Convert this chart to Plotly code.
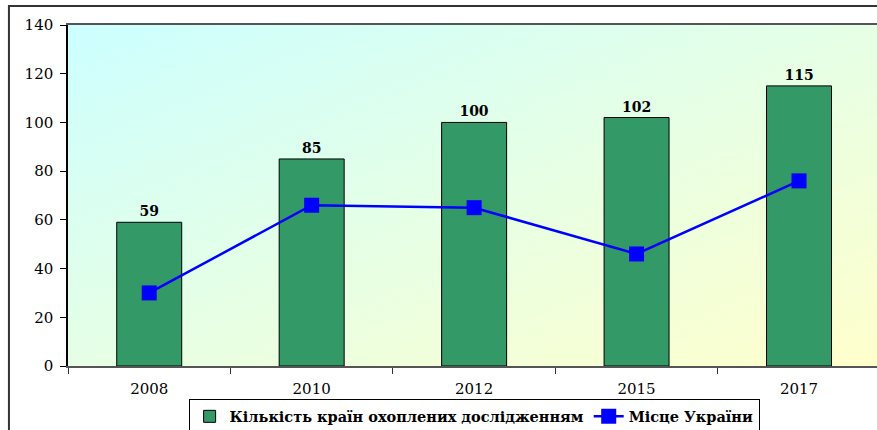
import base64
import plotly.graph_objects as go

years = ['2008', '2010', '2012', '2015', '2017']
countries = [59, 85, 100, 102, 115]
ukraine_rank = [30, 66, 65, 46, 76]

fontmin = 15
serif = 'DejaVu Serif, Times New Roman, serif'

# diagonal gradient for the plot area (cyan -> pale yellow)
svg = ('<svg xmlns="http://www.w3.org/2000/svg" width="800" height="340" preserveAspectRatio="none">'
       '<defs><linearGradient id="g" x1="0" y1="0" x2="1" y2="1">'
       '<stop offset="0" stop-color="#CCFFFF"/><stop offset="1" stop-color="#FFFFCC"/>'
       '</linearGradient></defs><rect width="800" height="340" fill="url(#g)"/></svg>')
bg = 'data:image/svg+xml;base64,' + base64.b64encode(svg.encode()).decode()

fig = go.Figure()
fig.add_trace(go.Bar(x=years, y=countries,
                     name='<b>Кількість країн охоплених дослідженням</b>',
                     marker=dict(color='#339966', line=dict(color='black', width=1)),
                     width=0.4,
                     text=['<b>%d</b>' % v for v in countries],
                     textposition='outside',
                     textfont=dict(size=14, color='black', family=serif),
                     cliponaxis=False))
fig.add_trace(go.Scatter(x=years, y=ukraine_rank,
                         name='<b>Місце України</b>',
                         mode='lines+markers',
                         line=dict(color='#0000FF', width=2.5),
                         marker=dict(symbol='square', size=15, color='#0000FF')))

fig.update_layout(width=877, height=430,
                  margin=dict(l=68, r=0, t=25, b=64, autoexpand=False),
                  paper_bgcolor='white',
                  plot_bgcolor='rgba(0,0,0,0)',
                  font=dict(family=serif, size=fontmin, color='black'),
                  showlegend=True,
                  legend=dict(orientation='h', x=0.502, xanchor='center',
                              y=-0.098, yanchor='top',
                              bordercolor='black', borderwidth=1,
                              font=dict(size=14.5, family=serif),
                              itemwidth=30, tracegroupgap=0),
                  images=[dict(source=bg, xref='paper', yref='paper',
                               x=0, y=1, sizex=1, sizey=1,
                               sizing='stretch', layer='below',
                               xanchor='left', yanchor='top')],
                  shapes=[dict(type='rect', xref='paper', yref='paper',
                               x0=-0.073, x1=1.2, y0=-0.5, y1=1.056,
                               line=dict(color='#333333', width=2))])

fig.update_xaxes(type='category', range=[-0.5, 4.48],
                 showline=True, linecolor='#555555', linewidth=1.5, mirror=True,
                 ticks='outside', tickson='boundaries', ticklen=6, tickcolor='#333333',
                 ticklabelstandoff=8,
                 showgrid=False, tickfont=dict(size=fontmin, family=serif),
                 automargin=False)
fig.update_yaxes(range=[0, 140], dtick=20,
                 showline=True, linecolor='black', linewidth=1.5,
                 ticks='outside', ticklen=6, tickcolor='black',
                 ticklabelstandoff=4,
                 showgrid=False, zeroline=False,
                 tickfont=dict(size=fontmin, family=serif),
                 automargin=False)

# page body has an 8px default margin, drop it so the figure sits at the corner
fig.write_html("out.html", config={'displayModeBar': False},
               post_script="document.body.style.margin='0';")
